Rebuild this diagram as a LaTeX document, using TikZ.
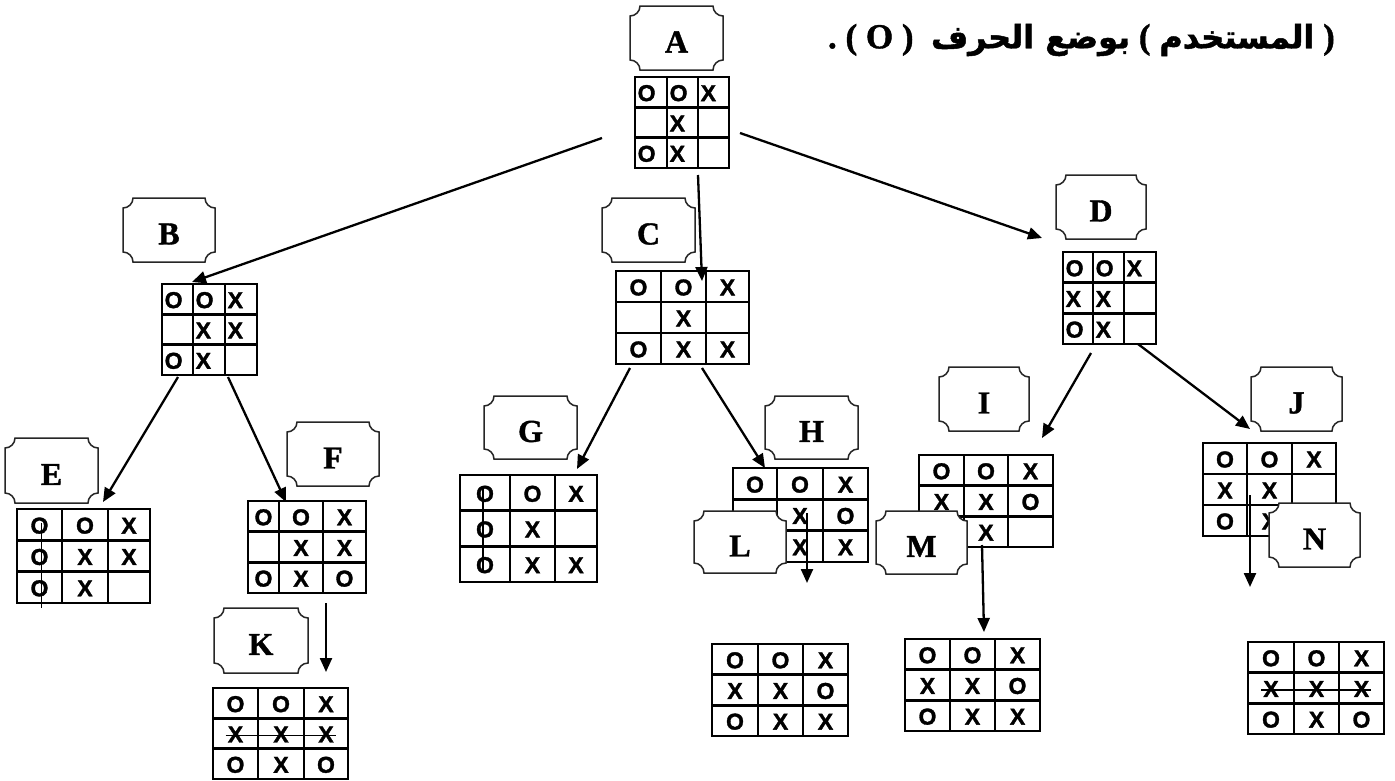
\documentclass[tikz,border=0pt]{standalone}
\usepackage{fontspec}
\setmainfont{Liberation Serif}[BoldFeatures={FakeBold=1.2}]
\newfontfamily\gridfont{Liberation Sans}[BoldFeatures={FakeBold=1.5}]
\newfontfamily\arabicfont[Script=Arabic,BoldFeatures={FakeBold=1.5}]{DejaVu Sans}
\TeXXeTstate=1
\usetikzlibrary{arrows.meta}
\tikzset{
  gline/.style={line width=2.5pt},
  gbox/.style={draw, line width=2.5pt, inner sep=0pt, outer sep=0pt},
  ctext/.style={font=\gridfont\bfseries\fontsize{23}{23}\selectfont, inner sep=0pt},
  plaq/.style={draw=black!85, line width=1.5pt, fill=white},
  lbl/.style={font=\bfseries\fontsize{32}{32}\selectfont, inner sep=0pt},
  arr/.style={line width=2.3pt, -{Triangle[length=14pt,width=12pt]}},
  strike/.style={line width=1.2pt},
}
% plaque label: name, x1, y1, x2, y2, letter
\newcommand\plq[6]{%
  \draw[plaq] (#2+10,#3) -- (#4-10,#3)
    .. controls (#4-10,#3+5.5) and (#4-5.5,#3+10) .. (#4,#3+10)
    -- (#4,#5-10)
    .. controls (#4-5.5,#5-10) and (#4-10,#5-5.5) .. (#4-10,#5)
    -- (#2+10,#5)
    .. controls (#2+10,#5-5.5) and (#2+5.5,#5-10) .. (#2,#5-10)
    -- (#2,#3+10)
    .. controls (#2+5.5,#3+10) and (#2+10,#3+5.5) .. cycle;
  \node[lbl] (#1) at ({(#2+#4)/2},{(#3+#5)/2+4}) {#6};}
% grid: name, x0, x1, x2, x3, y0, y3, align (0 centre, 1 left)
\newcommand\tgrid[8]{%
  \def\gname{#1}\def\gxa{#2}\def\gxb{#3}\def\gxc{#4}\def\gxd{#5}%
  \def\gya{#6}\def\gyd{#7}\def\galign{#8}%
  \node[gbox, minimum width={(#5-#2)*1pt}, minimum height={(#7-#6)*1pt}]
    (#1) at ({(#2+#5)/2},{(#6+#7)/2}) {};
  \draw[gline] (#3,#6) -- (#3,#7) (#4,#6) -- (#4,#7)
    (#2,{#6+(#7-#6)/3}) -- (#5,{#6+(#7-#6)/3})
    (#2,{#6+2*(#7-#6)/3}) -- (#5,{#6+2*(#7-#6)/3});}
% one row of cells: row index, entries
\newcommand\grow[2]{%
  \foreach \t [count=\j] in {#2} {%
    \pgfmathsetmacro\gcl{{\gxa,\gxb,\gxc,\gxd}[\j-1]}%
    \pgfmathsetmacro\gcr{{\gxa,\gxb,\gxc,\gxd}[\j]}%
    \pgfmathsetmacro\gcy{\gya+(#1-0.5)*(\gyd-\gya)/3+1}%
    \ifnum\galign=1
      \node[ctext, anchor=west] (\gname-#1-\j) at (\gcl+2.5,\gcy) {\t};
    \else
      \node[ctext] (\gname-#1-\j) at ({(\gcl+\gcr)/2},\gcy) {\t};
    \fi}}
\begin{document}
\begin{tikzpicture}[x=1pt,y=-1pt]
\useasboundingbox (0,0) rectangle (1395,780);
\fill[white] (0,0) rectangle (1395,780);

% title
\node[anchor=east, inner sep=0pt] (title) at (1335,40)
  {\fontsize{35}{38}\selectfont\bfseries .\ ( O )\ \ {\arabicfont\fontsize{32}{36}\selectfont\beginR بوضع الحرف\endR}\ ( {\arabicfont\fontsize{32}{36}\selectfont\beginR المستخدم\endR} )};

% A
\plq{lA}{630}{6}{723}{70}{A}
\tgrid{gA}{635}{667}{698}{729}{77}{168}{1}
\grow{1}{O,O,X}\grow{2}{{},X,{}}\grow{3}{O,X,{}}

% B
\plq{lB}{123}{198}{215}{262}{B}
\tgrid{gB}{162}{193}{225}{257}{284}{375}{1}
\grow{1}{O,O,X}\grow{2}{{},X,X}\grow{3}{O,X,{}}

% C
\plq{lC}{602}{198}{695}{262}{C}
\tgrid{gC}{616}{661}{706}{749}{271}{364}{0}
\grow{1}{O,O,X}\grow{2}{{},X,{}}\grow{3}{O,X,X}

% D
\plq{lD}{1056}{175}{1146}{239}{D}
\tgrid{gD}{1063}{1093}{1124}{1156}{252}{344}{1}
\grow{1}{O,O,X}\grow{2}{X,X,{}}\grow{3}{O,X,{}}

% E
\plq{lE}{5}{438}{98}{503}{E}
\tgrid{gE}{17}{62}{108}{150}{509}{603}{0}
\grow{1}{O,O,X}\grow{2}{O,X,X}\grow{3}{O,X,{}}
\draw[strike] (gE-1-1.center) ++(2,-3) coordinate (eTop) (gE-3-1.center) ++(2,20) coordinate (eBot);
\draw[strike] (eTop) -- (eBot);

% F
\plq{lF}{287}{422}{379}{486}{F}
\tgrid{gF}{248}{279}{323}{366}{501}{593}{0}
\grow{1}{O,O,X}\grow{2}{{},X,X}\grow{3}{O,X,O}

% G
\plq{lG}{484}{396}{577}{459}{G}
\tgrid{gG}{460}{510}{555}{597}{475}{582}{0}
\grow{1}{O,O,X}\grow{2}{O,X,{}}\grow{3}{O,X,X}
\draw[strike] (gG-1-1.center) ++(-2,-8) coordinate (gTop) (gG-3-1.center) ++(-2,5) coordinate (gBot);
\draw[strike] (gTop) -- (gBot);

% H
\plq{lH}{765}{396}{858}{459}{H}
\tgrid{gH}{733}{777}{823}{868}{468}{562}{0}
\grow{1}{O,O,X}\grow{2}{{},X,O}\grow{3}{{},X,X}

% I
\plq{lI}{939}{367}{1029}{431}{I}
\tgrid{gI}{919}{964}{1008}{1053}{455}{547}{0}
\grow{1}{O,O,X}\grow{2}{X,X,O}\grow{3}{{},X,{}}

% J
\plq{lJ}{1251}{367}{1342}{431}{J}
\tgrid{gJ}{1203}{1247}{1292}{1336}{443}{536}{0}
\grow{1}{O,O,X}\grow{2}{X,X,{}}\grow{3}{O,X,{}}

% labels overlapping grids
\plq{lL}{694}{511}{786}{573}{L}
\plq{lM}{876}{511}{967}{574}{M}
\plq{lN}{1269}{503}{1360}{567}{N}

% K
\plq{lK}{214}{608}{308}{673}{K}
\tgrid{gK}{213}{258}{304}{348}{688}{779}{0}
\grow{1}{O,O,X}\grow{2}{X,X,X}\grow{3}{O,X,O}
\draw[strike] (gK-2-1.west) ++(-2,1) coordinate (kL) (gK-2-3.east) ++(2,1) coordinate (kR);
\draw[strike] (kL) -- (kR);

% L result
\tgrid{gL}{712}{758}{803}{848}{644}{736}{0}
\grow{1}{O,O,X}\grow{2}{X,X,O}\grow{3}{O,X,X}

% M result
\tgrid{gM}{905}{950}{995}{1040}{639}{731}{0}
\grow{1}{O,O,X}\grow{2}{X,X,O}\grow{3}{O,X,X}

% N result
\tgrid{gN}{1248}{1294}{1339}{1384}{642}{734}{0}
\grow{1}{O,O,X}\grow{2}{X,X,X}\grow{3}{O,X,O}
\draw[strike] (gN-2-1.west) ++(-2,1) coordinate (nL) (gN-2-3.east) ++(2,1) coordinate (nR);
\draw[strike] (nL) -- (nR);

% connector end points
\coordinate (aB0) at (602,138);  \coordinate (aB1) at (192,282);
\coordinate (aC0) at (698,175);  \coordinate (aC1) at (702,281);
\coordinate (aD0) at (740,133);  \coordinate (aD1) at (1042,238);
\coordinate (bE0) at (178,377);  \coordinate (bE1) at (103,502);
\coordinate (bF0) at (228,377);  \coordinate (bF1) at (286,502);
\coordinate (fK0) at (326,603);  \coordinate (fK1) at (326,672);
\coordinate (cG0) at (630,368);  \coordinate (cG1) at (577,469);
\coordinate (cH0) at (702,368);  \coordinate (cH1) at (765,468);
\coordinate (hL0) at (807,513);  \coordinate (hL1) at (807,583);
\coordinate (dI0) at (1091,353); \coordinate (dI1) at (1042,438);
\coordinate (dJ0) at (1138,344); \coordinate (dJ1) at (1250,429);
\coordinate (iM0) at (982,545);  \coordinate (iM1) at (984,632);
\coordinate (jN0) at (1250,495); \coordinate (jN1) at (1250,587);

\draw[arr] (aB0) -- (aB1);
\draw[arr] (aC0) -- (aC1);
\draw[arr] (aD0) -- (aD1);
\draw[arr] (bE0) -- (bE1);
\draw[arr] (bF0) -- (bF1);
\draw[arr] (fK0) -- (fK1);
\draw[arr] (cG0) -- (cG1);
\draw[arr] (cH0) -- (cH1);
\draw[arr] (hL0) -- (hL1);
\draw[arr] (dI0) -- (dI1);
\draw[arr] (dJ0) -- (dJ1);
\draw[arr] (iM0) -- (iM1);
\draw[arr] (jN0) -- (jN1);
\end{tikzpicture}
\end{document}
